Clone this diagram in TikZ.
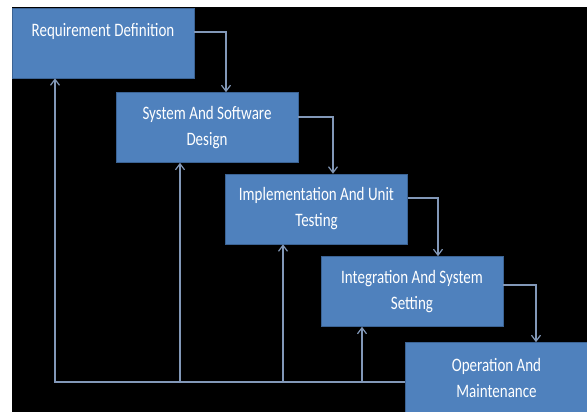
\documentclass[tikz,border=0pt]{standalone}
\usepackage{fontspec}
\setmainfont{Carlito}[FakeStretch=0.79]
\usepackage{tikz}
\usetikzlibrary{arrows.meta, positioning}
\definecolor{Slate}{HTML}{4F81BD}
\definecolor{SlateEdge}{HTML}{3B6394}
\definecolor{Wire}{HTML}{8298B8}

\tikzset{
  phase/.style={draw=SlateEdge, line width=0.6pt, fill=Slate, text=white,
    minimum width=182pt, minimum height=70pt, inner sep=0pt, align=center,
    font=\fontsize{19}{26}\selectfont},
  flow/.style={draw=Wire, line width=1.2pt, -{Straight Barb[length=6pt, width=9pt]}},
}

\begin{document}
\begin{tikzpicture}[x=1pt, y=-1pt]
  \useasboundingbox[fill=white] (0,0) rectangle (587,412);
  \fill[black] (12,7) rectangle (587,412);

  % the five phases
  \node[phase] (req)  at (103,43)    {Requirement Definition\\\mbox{}};
  \node[phase] (des)  at (207,127.5) {System And Software\\Design};
  \node[phase] (impl) at (316.5,209) {Implementation And Unit\\Testing};
  \node[phase] (integ) at (412,291.5) {Integration And System\\Setting};
  \node[phase] (oper) at (496.5,377.5) {Operation And\\Maintenance};

  % going down
  \draw[flow] ([yshift=11pt]req.east)   -| ([xshift=19pt]des.north);
  \draw[flow] ([yshift=10.5pt]des.east) -| ([xshift=16.5pt]impl.north);
  \draw[flow] ([yshift=11pt]impl.east)  -| ([xshift=26pt]integ.north);
  \draw[flow] ([yshift=6.5pt]integ.east) -| ([xshift=39.5pt]oper.north);

  % going back
  \coordinate (ret) at (55,382);
  \draw[flow] ([yshift=-4.5pt]oper.west) -| ([xshift=-48pt]req.south);
  \draw[flow] ([xshift=-27pt]des.south |- ret)   -- ([xshift=-27pt]des.south);
  \draw[flow] ([xshift=-33.5pt]impl.south |- ret) -- ([xshift=-33.5pt]impl.south);
  \draw[flow] ([xshift=-50pt]integ.south |- ret) -- ([xshift=-50pt]integ.south);
\end{tikzpicture}
\end{document}
